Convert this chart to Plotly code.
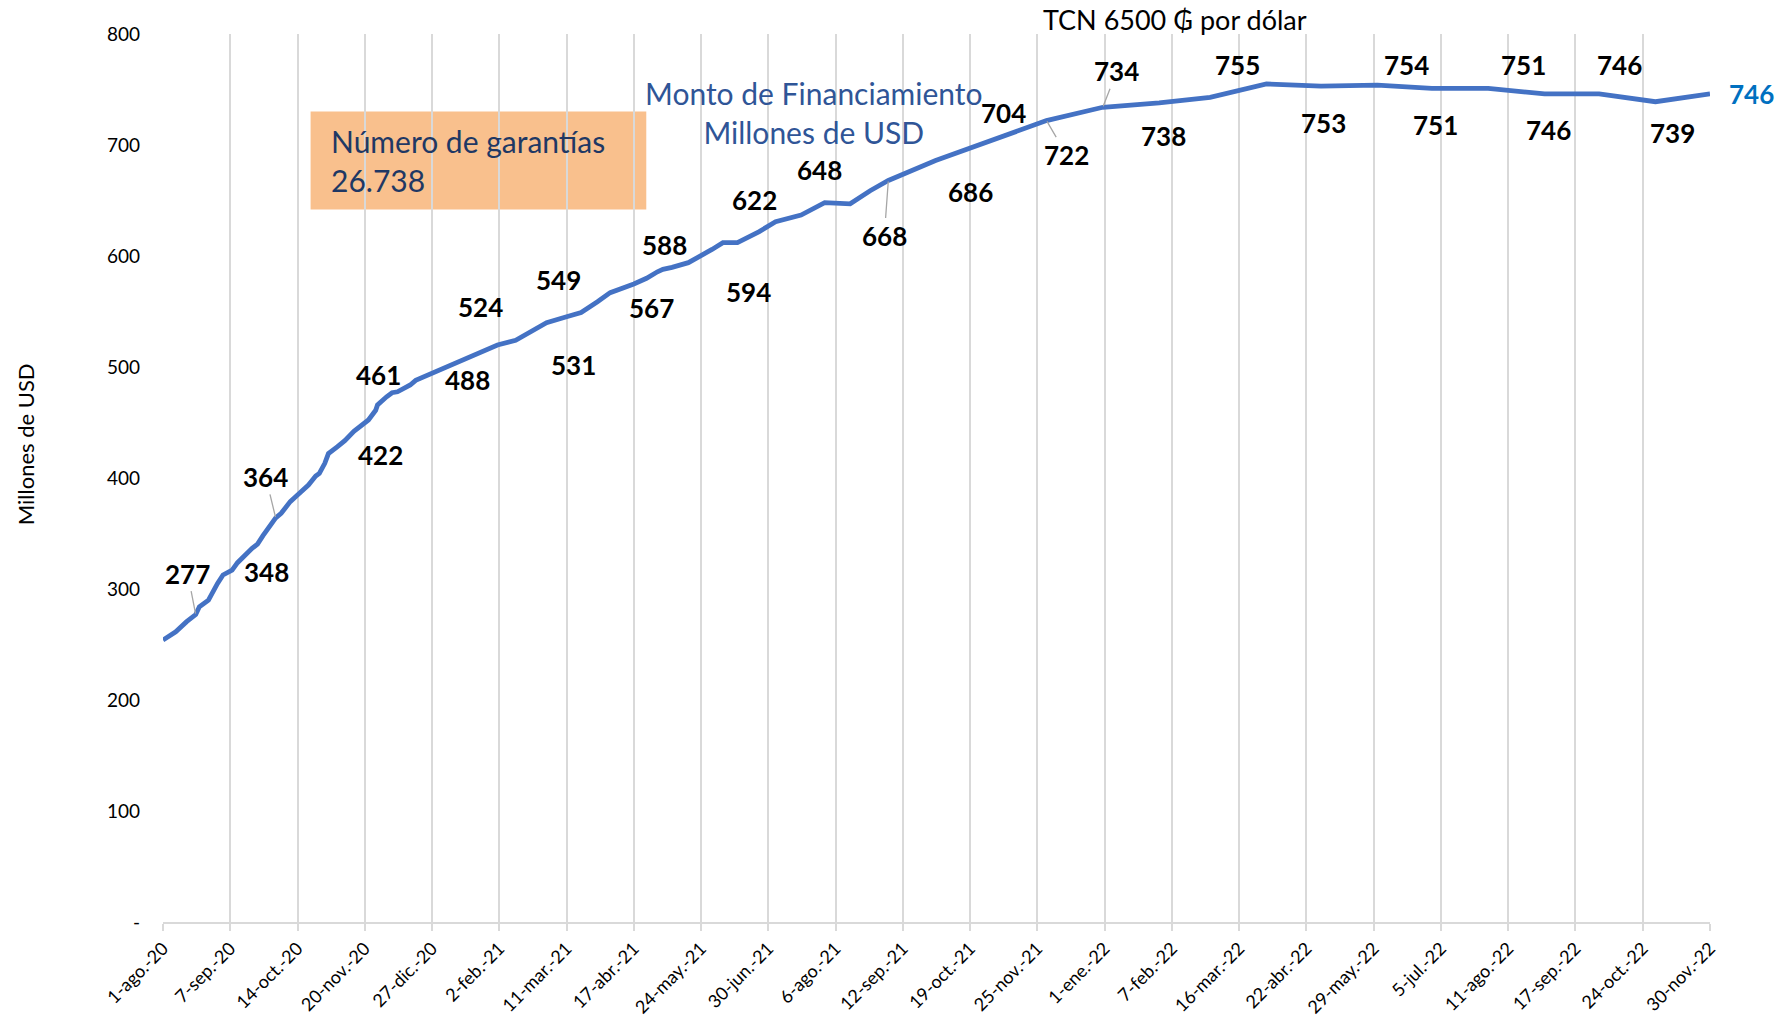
import plotly.graph_objects as go

# Monto de financiamiento acumulado (millones de USD)
fechas = [
    "2020-08-01", "2020-08-08", "2020-08-14", "2020-08-19", "2020-08-21", "2020-08-24", "2020-08-26", "2020-08-31",
    "2020-09-03", "2020-09-08", "2020-09-11", "2020-09-19", "2020-09-22", "2020-09-25", "2020-09-30",
    "2020-10-02", "2020-10-05", "2020-10-10", "2020-10-14", "2020-10-20", "2020-10-24", "2020-10-26", "2020-10-29", "2020-10-31",
    "2020-11-05", "2020-11-09", "2020-11-14", "2020-11-18", "2020-11-22", "2020-11-26", "2020-11-27",
    "2020-12-02", "2020-12-05", "2020-12-08", "2020-12-15", "2020-12-18", "2020-12-28",
    "2021-01-17", "2021-01-24", "2021-02-01", "2021-02-11", "2021-02-19", "2021-02-28",
    "2021-03-11", "2021-03-19", "2021-03-28", "2021-04-04", "2021-04-17", "2021-04-24", "2021-04-30",
    "2021-05-03", "2021-05-08", "2021-05-17", "2021-05-30", "2021-06-05", "2021-06-13", "2021-06-25",
    "2021-07-04", "2021-07-10", "2021-07-18", "2021-07-31", "2021-08-14", "2021-08-25", "2021-09-04",
    "2021-09-30", "2021-10-31", "2021-11-30", "2021-12-31", "2022-01-31", "2022-02-28", "2022-03-31",
    "2022-04-30", "2022-05-31", "2022-06-30", "2022-07-31", "2022-08-31", "2022-09-30", "2022-10-31", "2022-11-30",
]
monto = [
    254, 261.5, 270.6, 277, 284, 287, 290, 305,
    312.6, 317, 323.7, 336.6, 340.5, 348, 360,
    364, 368.2, 378.7, 384.7, 393.7, 401.8, 404.2, 413.2, 422,
    428.2, 433.6, 442, 447, 452.3, 461, 465.8,
    473.2, 476.8, 477.7, 483.8, 488, 495,
    508.7, 513.8, 519.8, 524, 531, 539.9,
    545.3, 549, 558.8, 567, 574.8, 579.9, 585.8,
    588, 589.8, 594, 605.9, 612, 612, 622,
    630.9, 633.9, 636.9, 648, 647, 658.8, 668,
    686, 704, 722, 734, 738, 743, 755,
    753, 754, 751, 751, 746, 746, 739, 746,
]

# Puntos con etiqueta: índice, desplazamiento (px) y si lleva línea guía
etiquetas = [
    (3, -8, -41, True), (13, 4, 36, False), (15, -10, -41, True), (23, 52, 1, False),
    (29, 3, -35, False), (35, 52, 0, False), (40, -35, -33, False), (41, 43, 32, False),
    (44, -23, -33, False), (46, 41, 15, False), (50, 2, -24, False), (52, 60, 29, False),
    (56, -5, -32, False), (60, -5, -33, False), (63, -4, 55, True), (64, 35, 31, False),
    (65, 12, -28, False), (66, 20, 34, True), (67, 14, -36, True), (68, 4, 33, False),
    (70, -29, -19, False), (71, 3, 37, False), (72, 29, -20, False), (73, 4, 37, False),
    (74, 35, -23, False), (75, 4, 36, False), (76, 20, -29, False), (77, 17, 31, False),
    (78, 41, 0, False),
]

tick_fechas = [
    "2020-08-01", "2020-09-07", "2020-10-14", "2020-11-20", "2020-12-27", "2021-02-02",
    "2021-03-11", "2021-04-17", "2021-05-24", "2021-06-30", "2021-08-06", "2021-09-12",
    "2021-10-19", "2021-11-25", "2022-01-01", "2022-02-07", "2022-03-16", "2022-04-22",
    "2022-05-29", "2022-07-05", "2022-08-11", "2022-09-17", "2022-10-24", "2022-11-30",
]
tick_textos = [
    "1-ago.-20", "7-sep.-20", "14-oct.-20", "20-nov.-20", "27-dic.-20", "2-feb.-21",
    "11-mar.-21", "17-abr.-21", "24-may.-21", "30-jun.-21", "6-ago.-21", "12-sep.-21",
    "19-oct.-21", "25-nov.-21", "1-ene.-22", "7-feb.-22", "16-mar.-22", "22-abr.-22",
    "29-may.-22", "5-jul.-22", "11-ago.-22", "17-sep.-22", "24-oct.-22", "30-nov.-22",
]
y_ticks = [0, 100, 200, 300, 400, 500, 600, 700, 800]
y_textos = ["-", "100", "200", "300", "400", "500", "600", "700", "800"]

FUENTE = "Lato, 'Open Sans', sans-serif"

fig = go.Figure()
fig.add_trace(go.Scatter(
    x=fechas, y=monto, mode="lines",
    line=dict(color="#4472C4", width=4.8),
    hoverinfo="x+y", showlegend=False,
))

anotaciones = []
for idx, dx, dy, guia in etiquetas:
    color = "#0070C0" if idx == len(monto) - 1 else "#000000"
    base = dict(
        x=fechas[idx], y=monto[idx], xref="x", yref="y",
        text=f"<b>{round(monto[idx])}</b>",
        font=dict(family=FUENTE, size=26, color=color),
    )
    if guia:
        base.update(showarrow=True, ax=dx, ay=dy, arrowhead=0, arrowwidth=1.3,
                    arrowcolor="#A6A6A6", standoff=1)
    else:
        base.update(showarrow=False, xshift=dx, yshift=-dy)
    anotaciones.append(base)

anotaciones += [
    dict(x=-0.0892, y=0.538, xref="paper", yref="paper", xanchor="center", yanchor="middle",
         text="Millones de USD", textangle=-90, showarrow=False,
         font=dict(family=FUENTE, size=22, color="#000000")),
    dict(x=0.1075, y=0.858, xref="paper", yref="paper", xanchor="left", yanchor="middle", align="left",
         text="Número de garantías<br>26.738", showarrow=False,
         font=dict(family=FUENTE, size=30, color="#1F3864")),
    dict(x=0.4205, y=0.9115, xref="paper", yref="paper", xanchor="center", yanchor="middle",
         text="Monto de Financiamiento<br>Millones de USD", showarrow=False,
         font=dict(family=FUENTE, size=30, color="#2F5597")),
    dict(x=0.654, y=1.016, xref="paper", yref="paper", xanchor="center", yanchor="middle",
         text="TCN 6500 ₲ por dólar", showarrow=False,
         font=dict(family=FUENTE, size=27, color="#000000")),
]

fig.update_layout(
    width=1784, height=1022,
    margin=dict(l=163, r=74, t=34, b=100, autoexpand=False),
    paper_bgcolor="white", plot_bgcolor="white",
    font=dict(family=FUENTE, color="#000000"),
    annotations=anotaciones,
    shapes=[dict(type="rect", xref="paper", yref="paper", x0=0.0954, x1=0.3124, y0=0.8025, y1=0.9127,
                 fillcolor="#F9C08D", line=dict(width=0), layer="below")],
)
fig.update_xaxes(
    type="date", range=["2020-08-01", "2022-11-30"],
    tickvals=tick_fechas, ticktext=tick_textos, tickangle=-45,
    tickfont=dict(family=FUENTE, size=18, color="#000000"),
    showgrid=True, gridcolor="#D9D9D9", gridwidth=1.5,
    showline=True, linecolor="#D9D9D9", linewidth=2,
    ticks="outside", ticklen=7, tickcolor="#D9D9D9", tickwidth=1.5,
    zeroline=False, automargin=False,
)
fig.update_yaxes(
    range=[0, 800], tickvals=y_ticks, ticktext=y_textos,
    tickfont=dict(family=FUENTE, size=19, color="#000000"),
    showgrid=False, zeroline=False, showline=False, ticks="",
    ticklabelstandoff=22, automargin=False,
)

fig.write_html("out.html")
